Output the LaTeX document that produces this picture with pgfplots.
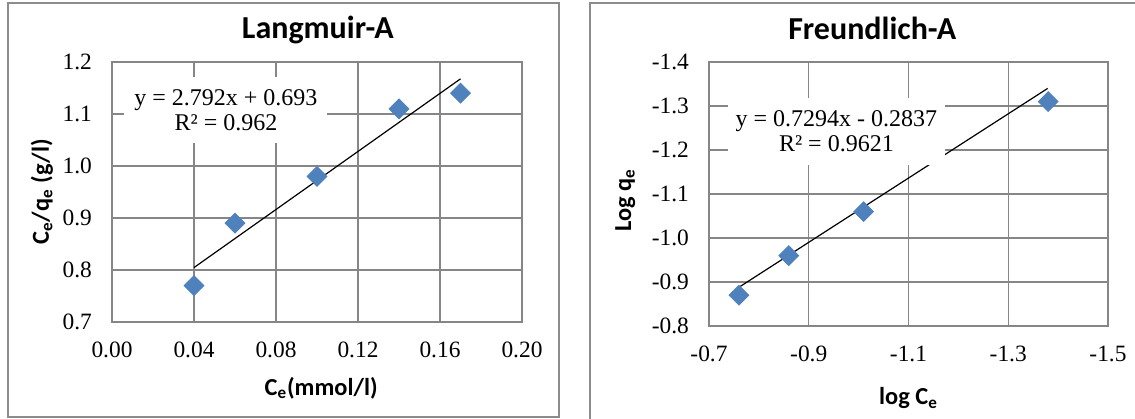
\documentclass[border=0pt]{standalone}
\usepackage{fontspec}
\setmainfont{Liberation Serif}
\newfontfamily\calib{Carlito}
\usepackage{pgfplots}
\pgfplotsset{compat=1.18}
\definecolor{gridgray}{HTML}{868686}
\definecolor{framegray}{HTML}{8C8C8C}
\definecolor{xlblue}{HTML}{4F81BD}

\pgfplotsset{myaxis/.style={
  scale only axis, anchor=south west, clip=false,
  axis line style={gridgray, line width=0.7pt},
  grid=major, major grid style={gridgray, line width=0.7pt},
  major tick length=0pt, tick style={draw=none},
  ticklabel style={font=\fontsize{11.7}{14}\selectfont,
    /pgf/number format/assume math mode=true,
    /pgf/number format/fixed, /pgf/number format/fixed zerofill},
  yticklabel style={xshift=-6.5pt},
  xticklabel style={yshift=-6.5pt},
  label style={font=\calib\bfseries\fontsize{12.2}{14}\selectfont},
}}

\begin{document}
\begin{tikzpicture}
\path[use as bounding box] (0,0) rectangle (567.5pt,209pt);
% chart frames
\draw[framegray, line width=0.8pt] (4pt,0.5pt) rectangle (279.5pt,207.5pt);
\draw[framegray, line width=0.8pt] (295pt,-2pt) -- (295pt,207.5pt) -- (570pt,207.5pt);

% Langmuir
\begin{axis}[myaxis,
  at={(56pt,48pt)}, width=205pt, height=130pt,
  xmin=0, xmax=0.2, ymin=0.7, ymax=1.2,
  xtick={0,0.04,0.08,0.12,0.16,0.2},
  ytick={0.7,0.8,0.9,1.0,1.1,1.2},
  xticklabel style={/pgf/number format/precision=2},
  yticklabel style={/pgf/number format/precision=1},
  xlabel={C\textsubscript{e}(mmol/l)},
  ylabel={C\textsubscript{e}/q\textsubscript{e} (g/l)},
  xlabel style={at={(axis description cs:0.51,-0.254)}, anchor=center},
  ylabel style={at={(axis description cs:-0.171,0.5)}, anchor=center},
]
\addplot[black, line width=0.6pt, no marks] coordinates {(0.04,0.8047) (0.17,1.1676)};
\addplot[only marks, mark=square*, mark size=3.5pt,
  mark options={rotate=45, fill=xlblue, draw=xlblue}]
  coordinates {(0.04,0.77) (0.06,0.89) (0.10,0.98) (0.14,1.11) (0.17,1.14)};
\node[fill=white, align=center, inner sep=0pt, minimum width=101.5pt, minimum height=33pt,
  font=\fontsize{12}{12.5}\selectfont] at (axis cs:0.0556,1.108)
  {y = 2.792x + 0.693\\R² = 0.962};
\node[font=\calib\bfseries\fontsize{16}{19}\selectfont] at (axis description cs:0.502,1.123) {Langmuir-A};
\end{axis}

% Freundlich
\begin{axis}[myaxis,
  at={(354.5pt,46pt)}, width=199.5pt, height=132pt,
  x dir=reverse, y dir=reverse,
  xmin=-1.5, xmax=-0.7, ymin=-1.4, ymax=-0.8,
  xtick={-1.5,-1.3,-1.1,-0.9,-0.7},
  ytick={-1.4,-1.3,-1.2,-1.1,-1.0,-0.9,-0.8},
  xticklabel style={/pgf/number format/precision=1},
  yticklabel style={/pgf/number format/precision=1},
  xlabel={log C\textsubscript{e}},
  ylabel={Log q\textsubscript{e}},
  xlabel style={at={(axis description cs:0.5,-0.273)}, anchor=center},
  ylabel style={at={(axis description cs:-0.21,0.477)}, anchor=center},
]
\addplot[black, line width=0.6pt, no marks] coordinates {(-0.76,-0.888) (-1.379,-1.340)};
\addplot[only marks, mark=square*, mark size=3.5pt,
  mark options={rotate=45, fill=xlblue, draw=xlblue}]
  coordinates {(-0.76,-0.87) (-0.86,-0.96) (-1.01,-1.06) (-1.38,-1.31)};
\node[fill=white, align=center, inner sep=0pt, minimum width=108.5pt, minimum height=33.5pt,
  font=\fontsize{12}{12.5}\selectfont] at (axis cs:-0.9555,-1.242)
  {y = 0.7294x - 0.2837\\R² = 0.9621};
\node[font=\calib\bfseries\fontsize{16}{19}\selectfont] at (axis description cs:0.409,1.129) {Freundlich-A};
\end{axis}
\end{tikzpicture}
\end{document}
